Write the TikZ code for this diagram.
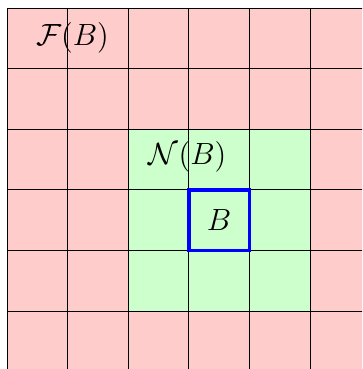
\documentclass[tikz,border=0pt]{standalone}
\usepackage{amsmath,amssymb}
\usepackage{xcolor}
\usepackage{tikz}
\definecolor{farcell}{HTML}{FFCCCC}
\definecolor{nearcell}{HTML}{CCFFCC}
\newcommand{\labelfont}{\Large}
\tikzset{
  gridline/.style={draw=black, line width=0.4pt},
  blockbox/.style={draw=blue, line width=1.6pt, minimum size=1cm, inner sep=0pt},
  setlabel/.style={font=\labelfont, inner sep=0pt}
}

\begin{document}
\begin{tikzpicture}
\clip (-0.116,0.132) rectangle (5.858,-5.957);
\useasboundingbox (-0.116,0.132) rectangle (5.858,-5.957);
% far field and neighbourhood
\fill[farcell] (0,0) rectangle (6,-6);
\fill[nearcell] (2,-2) rectangle (5,-5);
\draw[gridline] (0,0) grid (6,-6);
% the block itself
\node[blockbox] (blk) at (3.5,-3.5) {};
\node[setlabel] (blkname) at (blk.center) {$B$};
\node[setlabel] (near) at (2.98,-2.46) {$\mathcal{N}(B)$};
\node[setlabel] (far) at (1.08,-0.49) {$\mathcal{F}(B)$};
\end{tikzpicture}
\end{document}
